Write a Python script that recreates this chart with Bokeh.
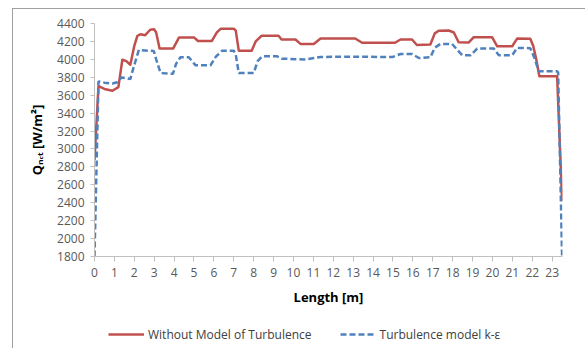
from bokeh.plotting import figure
from bokeh.layouts import column
from bokeh.models import Range1d, FixedTicker, Legend, LegendItem
from bokeh.embed import file_html
from bokeh.resources import INLINE

# Data
red_x = [0, 0.2, 0.5, 0.9, 1.2, 1.4, 1.6, 1.8, 2.0, 2.15, 2.3, 2.55, 2.8, 3.0, 3.1, 3.27,
         3.95, 4.25, 5.0, 5.2, 5.9, 6.15, 6.35, 7.0, 7.1, 7.25, 7.9, 8.1, 8.4, 9.25, 9.4,
         10.1, 10.35, 11.02, 11.36, 13.1, 13.45, 15.1, 15.38, 15.96, 16.2, 16.88, 17.1,
         17.3, 17.8, 18.06, 18.3, 18.8, 19.06, 19.98, 20.24, 20.99, 21.24, 21.9, 22.05,
         22.2, 22.36, 23.25, 23.5]
red_y = [2876, 3700, 3670, 3650, 3690, 3995, 3980, 3940, 4150, 4260, 4280, 4270, 4330, 4335,
         4300, 4120, 4120, 4245, 4245, 4205, 4205, 4300, 4342, 4342, 4320, 4097, 4097, 4200,
         4263, 4263, 4222, 4222, 4172, 4172, 4232, 4232, 4185, 4185, 4221, 4221, 4160, 4165,
         4290, 4320, 4322, 4300, 4190, 4187, 4247, 4247, 4146, 4146, 4232, 4230, 4150, 4000,
         3810, 3810, 2420]

blue_x = [0, 0.2, 0.5, 0.9, 1.15, 1.36, 1.8, 1.95, 2.23, 2.98, 3.1, 3.32, 3.94, 4.1, 4.32,
          4.74, 5.08, 5.83, 6.1, 6.42, 7.0, 7.1, 7.25, 8.0, 8.2, 8.43, 9.18, 9.4, 10.6,
          11.36, 13.0, 14.96, 15.38, 15.96, 16.3, 16.88, 17.1, 17.39, 17.97, 18.48, 18.9,
          19.23, 20.07, 20.32, 20.99, 21.24, 21.9, 22.1, 22.33, 23.25, 23.3, 23.5]
blue_y = [1800, 3754, 3740, 3730, 3745, 3798, 3780, 3900, 4105, 4092, 4000, 3847, 3838, 3950,
          4023, 4023, 3933, 3933, 4030, 4097, 4097, 4050, 3847, 3847, 3980, 4034, 4034, 4008,
          3997, 4027, 4030, 4025, 4060, 4060, 4015, 4023, 4130, 4172, 4172, 4045, 4045, 4120,
          4120, 4045, 4045, 4128, 4125, 4020, 3866, 3866, 3855, 1800]

x_ticks = list(range(0, 24))
y_ticks = list(range(1800, 4401, 200))

series_names = ["Without Model of Turbulence", "Turbulence model k-\u03b5"]
x_title = "Length [m]"
y_title = "Q\u2099\u2091\u209c [W/m\u00b2]"

FONT = "Open Sans"
RED = "#C0504D"
BLUE = "#4F81BD"
RED_STYLE = dict(line_color=RED, line_width=2.5, line_join="round")
BLUE_STYLE = dict(line_color=BLUE, line_width=2.5, line_dash="6 3")

# ---- main chart ----
p = figure(width=572, height=310, output_backend="svg", toolbar_location=None,
           x_range=Range1d(0, 23.52), y_range=Range1d(1800, 4400),
           min_border_left=81, min_border_right=23, min_border_top=14, min_border_bottom=63)
p.outline_line_color = None
p.xgrid.visible = False
p.ygrid.visible = False
p.background_fill_color = "white"
p.border_fill_color = "white"

for ax in (p.xaxis[0], p.yaxis[0]):
    ax.axis_line_color = "#c0c0c0"
    ax.major_tick_line_color = "#c0c0c0"
    ax.minor_tick_line_color = None
    ax.major_tick_in = 0
    ax.major_label_text_font = FONT
    ax.major_label_text_font_size = "12px"
    ax.major_label_text_color = "#595959"
    ax.axis_label_text_font = FONT
    ax.axis_label_text_font_size = "13px"
    ax.axis_label_text_font_style = "bold"
    ax.axis_label_text_color = "#000000"

p.xaxis.ticker = FixedTicker(ticks=x_ticks)
p.yaxis.ticker = FixedTicker(ticks=y_ticks)
p.xaxis.major_tick_out = 5
p.yaxis.major_tick_out = 4
p.xaxis.major_label_standoff = 6
p.yaxis.major_label_standoff = 6
p.xaxis.axis_label = x_title
p.yaxis.axis_label = y_title
p.xaxis.axis_label_standoff = 8
p.yaxis.axis_label_standoff = 8

p.line(red_x, red_y, **RED_STYLE)
p.line(blue_x, blue_y, **BLUE_STYLE)

# ---- legend strip below the chart (series drawn outside its visible ranges) ----
lg_fig = figure(width=572, height=29, output_backend="svg", toolbar_location=None,
                x_range=Range1d(100, 101), y_range=Range1d(0, 1),
                x_axis_type=None, y_axis_type=None, min_border=0)
lg_fig.outline_line_color = None
lg_fig.background_fill_color = "white"
lg_fig.border_fill_color = "white"
lr_red = lg_fig.line(red_x, red_y, **RED_STYLE)
lr_blue = lg_fig.line(blue_x, blue_y, **BLUE_STYLE)

legend = Legend(items=[LegendItem(label=series_names[0], renderers=[lr_red]),
                       LegendItem(label=series_names[1], renderers=[lr_blue])],
                location=(14, 4), orientation="horizontal", padding=0, margin=0,
                spacing=28, glyph_width=36, glyph_height=20, label_height=20, label_standoff=4,
                border_line_color=None, background_fill_alpha=0,
                label_text_font=FONT, label_text_font_size="12px", label_text_color="#404040")
lg_fig.add_layout(legend, "center")

layout = column(p, lg_fig, spacing=0, margin=(8, 0, 0, 12),
                styles={"border-left": "1px solid #a0a0a0", "border-top": "1px solid #a0a0a0"})

open("out.html", "w").write(file_html(layout, INLINE))
